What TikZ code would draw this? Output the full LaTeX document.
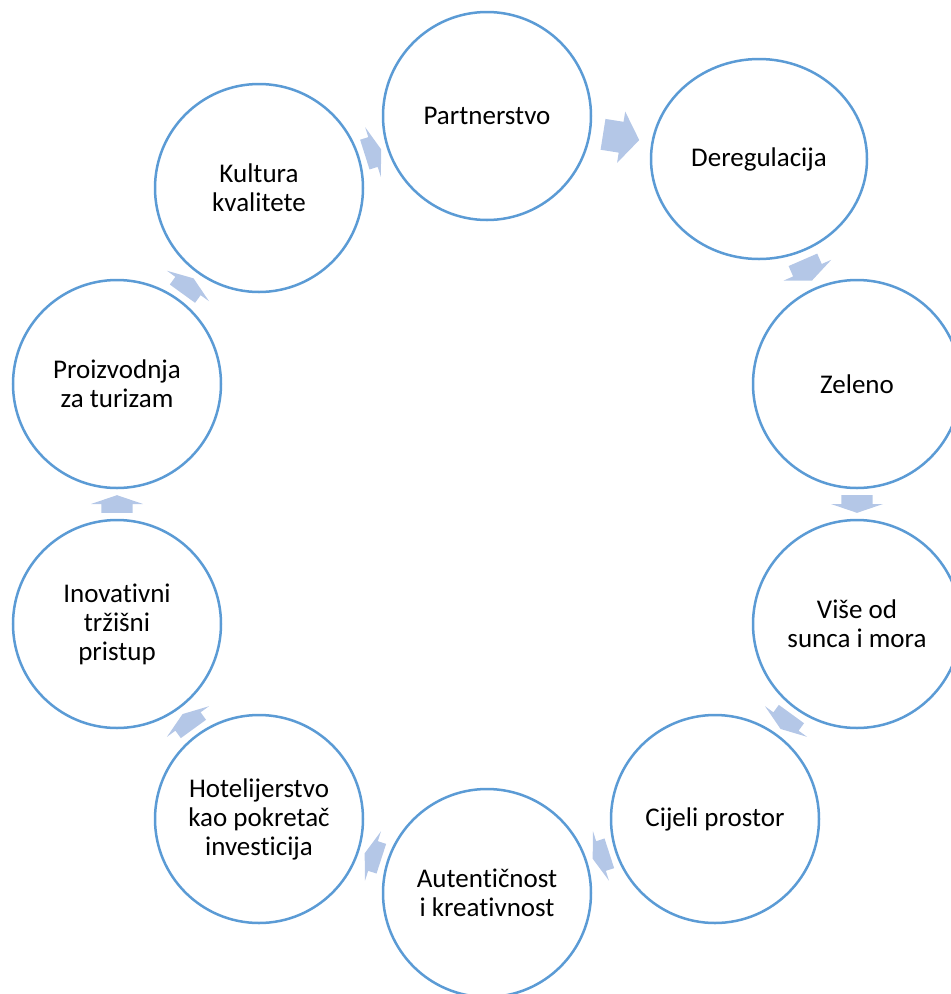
\documentclass[tikz,border=0pt]{standalone}
\usepackage{fontspec}
\setmainfont{Carlito}[Ligatures=NoCommon]
\usetikzlibrary{calc,shapes.geometric}
\definecolor{ringblue}{HTML}{5B9BD5}
\definecolor{arrowblue}{HTML}{B4C7E7}
\tikzset{
  stage/.style={circle, draw=ringblue, line width=2.5pt, fill=white,
    minimum size=208pt, inner sep=0pt, align=center,
    font=\fontsize{27}{29}\selectfont},
  stageoval/.style={stage, ellipse, minimum width=216pt, minimum height=200pt},
  flowarrow/.style={fill=arrowblue, draw=none}
}
\newcommand{\cyclearrow}[2]{%
  \path (#1) -- (#2) coordinate[pos=0.2] (tl) coordinate[pos=0.8] (hd) coordinate[pos=0.5] (md);
  \fill[flowarrow] ($(tl)!15.6pt!90:(hd)$) -- ($(md)!15.6pt!90:(hd)$) -- ($(md)!26pt!90:(hd)$) -- (hd)
    -- ($(md)!26pt!-90:(hd)$) -- ($(md)!15.6pt!-90:(hd)$) -- ($(tl)!15.6pt!-90:(hd)$) -- cycle;
}
\begin{document}
\begin{tikzpicture}[x=1pt,y=-1pt]
\useasboundingbox (0,0) rectangle (951,994);
\clip (0,0) rectangle (951,994);
\node[stage] (P) at (487,116) {Partnerstvo};
\node[stageoval] (D) at (759,159) {Deregulacija};
\node[stage] (Z) at (857,384) {Zeleno};
\node[stage] (V) at (857,624) {Više od\\sunca i mora};
\node[stage] (C) at (715,819) {Cijeli prostor};
\node[stage] (A) at (487,893) {Autentičnost\\i kreativnost};
\node[stage] (H) at (259,819) {Hotelijerstvo\\kao pokretač\\investicija};
\node[stage] (I) at (117,624) {Inovativni\\tržišni\\pristup};
\node[stage] (R) at (117,384) {Proizvodnja\\za turizam};
\node[stage] (K) at (259,188) {Kultura\\kvalitete};
\cyclearrow{P}{D}
\cyclearrow{D}{Z}
\cyclearrow{Z}{V}
\cyclearrow{V}{C}
\cyclearrow{C}{A}
\cyclearrow{A}{H}
\cyclearrow{H}{I}
\cyclearrow{I}{R}
\cyclearrow{R}{K}
\cyclearrow{K}{P}
\end{tikzpicture}
\end{document}
